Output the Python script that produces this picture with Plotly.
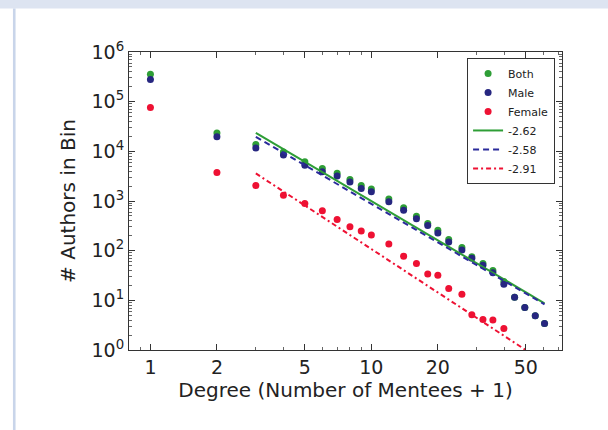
import plotly.graph_objects as go

# ---- data ----
degree = [1, 2, 3, 4, 5, 6, 7, 8, 9, 10, 12, 14, 16, 18, 20, 22.4, 25.7, 28.5,
          32, 35.5, 39.8, 44.5, 49.5, 55.2, 60.8]
both = [3.56e5, 2.34e4, 1.38e4, 9700, 6160, 4500, 3600, 2700, 2040, 1740, 1100,
        730, 495, 354, 258, 167, 116, 75, 55, 40, 24, 11.5, 7.2, 4.9, 3.4]
male = [2.8e5, 1.96e4, 1.17e4, 8400, 5270, 3870, 3170, 2400, 1790, 1530, 964,
        650, 440, 320, 226, 150, 103, 70, 51, 36, 21, 11.5, 7.2, 4.9, 3.4]
female_degree = degree[:21]
female = [7.6e4, 3760, 2050, 1300, 893, 635, 426, 303, 248, 206, 136, 77, 55,
          34, 32, 17.4, 13.2, 5.1, 4.1, 4.0, 2.7]

fit_x = [3, 60.8]
fit_both = [2.36e4, 8.7]
fit_male = [1.96e4, 8.3]
fit_female = [3590, 0.565]

legend_names = ["Both", "Male", "Female", "-2.62", "-2.58", "-2.91"]
x_ticks = [1, 2, 5, 10, 20, 50]
y_exps = [0, 1, 2, 3, 4, 5, 6]

GREEN = "#2e9e36"
BLUE = "#262680"
RED = "#ee1133"

fig = go.Figure()
fig.add_trace(go.Scatter(x=degree, y=both, mode="markers", name=legend_names[0],
                         marker=dict(color=GREEN, size=7)))
fig.add_trace(go.Scatter(x=degree, y=male, mode="markers", name=legend_names[1],
                         marker=dict(color=BLUE, size=7)))
fig.add_trace(go.Scatter(x=female_degree, y=female, mode="markers", name=legend_names[2],
                         marker=dict(color=RED, size=7)))
fig.add_trace(go.Scatter(x=fit_x, y=fit_both, mode="lines", name=legend_names[3],
                         line=dict(color=GREEN, width=2)))
fig.add_trace(go.Scatter(x=fit_x, y=fit_male, mode="lines", name=legend_names[4],
                         line=dict(color="#2b2b9b", width=2, dash="6px,4px")))
fig.add_trace(go.Scatter(x=fit_x, y=fit_female, mode="lines", name=legend_names[5],
                         line=dict(color=RED, width=2, dash="5px,3px,2px,3px")))

axis_common = dict(showline=True, linecolor="#333", linewidth=1.2, mirror="ticks",
                   ticks="inside", ticklen=6, tickcolor="#333", showgrid=False,
                   zeroline=False, tickfont=dict(size=19, color="#222"))

fig.update_xaxes(type="log", range=[-0.097, 1.863], tickvals=x_ticks,
                 ticktext=[str(v) for v in x_ticks],
                 minor=dict(ticks="inside", ticklen=3, tickcolor="#666", dtick="D1"),
                 title=dict(text="Degree (Number of Mentees + 1)",
                            font=dict(size=20, color="#222"), standoff=5),
                 automargin=False, **axis_common)
fig.update_yaxes(type="log", range=[0, 6], tickvals=[10 ** e for e in y_exps],
                 ticktext=["10<sup>%d</sup>" % e for e in y_exps],
                 minor=dict(ticks="inside", ticklen=3, tickcolor="#666", dtick="D1"),
                 title=dict(text="# Authors in Bin",
                            font=dict(size=20, color="#222"), standoff=10),
                 automargin=False, **axis_common)

fig.update_layout(
    width=608, height=430,
    margin=dict(l=129, r=46, t=52, b=80),
    paper_bgcolor="white", plot_bgcolor="white",
    font=dict(family="DejaVu Sans", color="#222"),
    showlegend=True,
    legend=dict(x=0.984, y=0.98, xanchor="right", yanchor="top",
                bordercolor="#333", borderwidth=1, bgcolor="white",
                font=dict(size=11, color="#222"), tracegroupgap=0),
    shapes=[
        dict(type="rect", xref="paper", yref="paper",
             x0=-0.31, x1=1.12, y0=1.146, y1=1.18,
             fillcolor="#dde4f1", line=dict(width=0)),
        dict(type="rect", xref="paper", yref="paper",
             x0=-0.268, x1=-0.262, y0=-0.28, y1=1.146,
             fillcolor="#c9d5ea", line=dict(width=0)),
    ],
)

fig.write_html("out.html", config={"displayModeBar": False},
               post_script="document.body.style.margin='0';document.body.style.overflow='hidden';")
